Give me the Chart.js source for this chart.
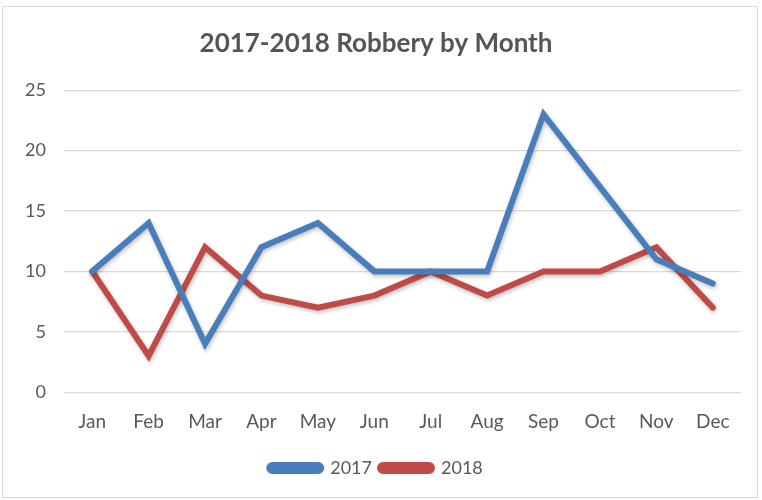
<!DOCTYPE html>
<html>
<head>
<meta charset="utf-8">
<script src="https://cdn.jsdelivr.net/npm/chart.js@4/dist/chart.umd.min.js"></script>
<style>
  html, body { margin: 0; padding: 0; background: #fff; }
  #wrap { position: absolute; left: 2px; top: 6px; width: 756px; height: 492px; border: 1px solid #d9d9d9; box-sizing: border-box; }
  canvas { display: block; }
</style>
</head>
<body>
<div id="wrap"><canvas id="c" width="756" height="492"></canvas></div>
<script>
const months = ["Jan","Feb","Mar","Apr","May","Jun","Jul","Aug","Sep","Oct","Nov","Dec"];
const robbery2017 = [10,14,4,12,14,10,10,10,23,17,11,9];
const robbery2018 = [10,3,12,8,7,8,10,8,10,10,12,7];
const seriesNames = ["2017","2018"];
const textColor = "#595959";
const fontFamily = "Lato, 'Liberation Sans', sans-serif";

const shadowPlugin = {
  id: 'shadow',
  beforeDatasetsDraw(chart) {
    const ctx = chart.ctx;
    ctx.save();
    ctx.shadowColor = 'rgba(0,0,0,0.25)';
    ctx.shadowBlur = 4;
    ctx.shadowOffsetX = 1;
    ctx.shadowOffsetY = 2;
  },
  afterDatasetsDraw(chart) {
    chart.ctx.restore();
  }
};

new Chart(document.getElementById('c'), {
  type: 'line',
  data: {
    labels: months,
    datasets: [
      { label: seriesNames[0], data: robbery2017, borderColor: '#4a7ebb', backgroundColor: '#4a7ebb', borderWidth: 6, pointRadius: 0, tension: 0, borderCapStyle: 'round', borderJoinStyle: 'miter' },
      { label: seriesNames[1], data: robbery2018, borderColor: '#be4b48', backgroundColor: '#be4b48', borderWidth: 6, pointRadius: 0, tension: 0, borderCapStyle: 'round', borderJoinStyle: 'miter' }
    ]
  },
  options: {
    responsive: false,
    animation: false,
    devicePixelRatio: 1,
    layout: { padding: { left: 8, right: 18, top: 12, bottom: 12 } },
    plugins: {
      title: {
        display: true,
        text: '2017-2018 Robbery by Month',
        color: '#555555',
        font: { family: fontFamily, size: 26, weight: 'bold' },
        padding: { top: 9, bottom: 31 }
      },
      legend: {
        position: 'bottom',
        labels: {
          color: textColor,
          font: { family: fontFamily, size: 18 },
          boxWidth: 52,
          boxHeight: 6,
          useBorderRadius: true,
          borderRadius: 3,
          padding: 8
        }
      },
      tooltip: { enabled: false }
    },
    scales: {
      x: {
        offset: true,
        grid: { display: false, drawTicks: false },
        border: { display: false },
        ticks: { color: textColor, font: { family: fontFamily, size: 19 }, padding: 18 }
      },
      y: {
        min: 0, max: 25,
        grid: { color: '#d9d9d9', lineWidth: 1.2, drawTicks: false },
        border: { display: false },
        ticks: { stepSize: 5, color: textColor, font: { family: fontFamily, size: 18 }, padding: 18 },
        afterFit(scale) { scale.width = 53; }
      }
    }
  },
  plugins: [shadowPlugin]
});
</script>
</body>
</html>
